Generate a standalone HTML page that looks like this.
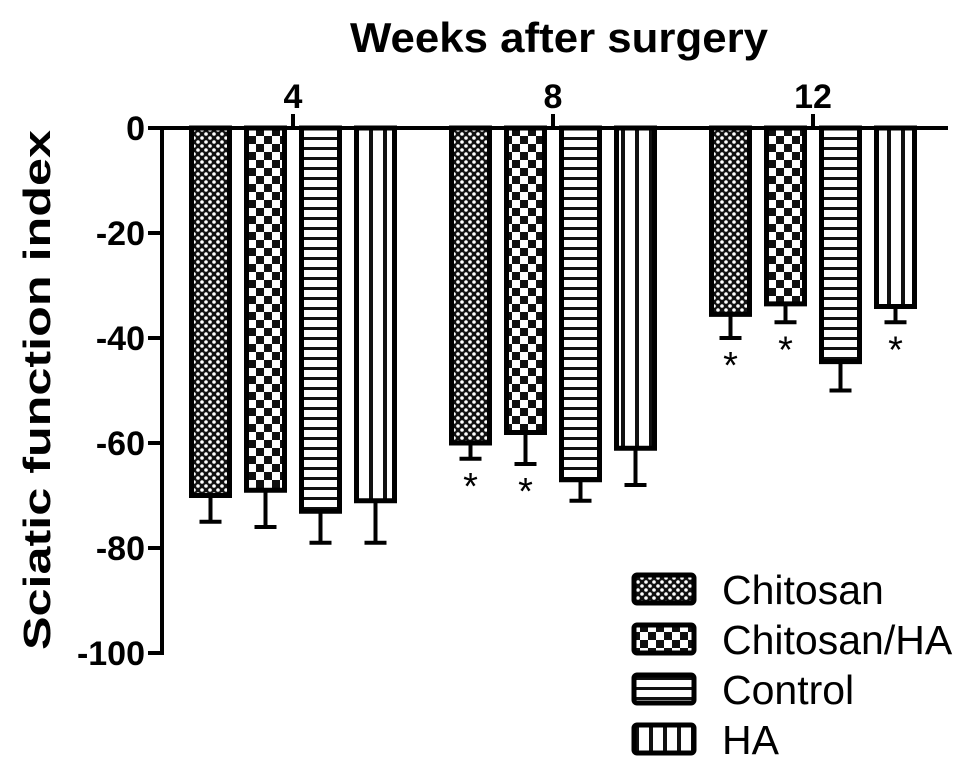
<!DOCTYPE html>
<html><head><meta charset="utf-8"><style>
html,body{margin:0;padding:0;background:#fff;}
svg{display:block;font-family:"Liberation Sans",Arial,sans-serif;}
</style></head><body>
<svg id="chart" width="969" height="782" viewBox="0 0 969 782">
<defs>
<pattern id="p-dots" width="8" height="8" patternUnits="userSpaceOnUse">
<rect width="8" height="8" fill="#111"/><circle cx="2" cy="2" r="1.8" fill="#fff"/><circle cx="6" cy="6" r="1.8" fill="#fff"/>
</pattern>
<pattern id="p-check" width="16" height="16" patternUnits="userSpaceOnUse">
<rect width="16" height="16" fill="#fff"/><rect width="8" height="8" fill="#111"/><rect x="8" y="8" width="8" height="8" fill="#111"/>
</pattern>
<pattern id="p-hstripe" width="10" height="10" patternUnits="userSpaceOnUse">
<rect width="10" height="10" fill="#fff"/><rect y="7" width="10" height="3" fill="#111"/>
</pattern>
<pattern id="p-vstripe" width="14" height="10" patternUnits="userSpaceOnUse">
<rect width="14" height="10" fill="#fff"/><rect x="5" width="4" height="10" fill="#111"/>
</pattern>
</defs>
<g id="plot"></g>
</svg>
<script>
const groups = ["4","8","12"];
const seriesNames = ["Chitosan","Chitosan/HA","Control","HA"];
const chitosan = [-70,-60,-35.5];
const chitosanHA = [-69,-58,-33.5];
const control = [-73,-67,-44.5];
const ha = [-71,-61,-34];
const errChitosan = [5,3,4.5];
const errChitosanHA = [7,6,3.5];
const errControl = [6,4,5.5];
const errHA = [8,7,3];
const sig = [[false,true,true],[false,true,true],[false,false,false],[false,false,true]];
const yTicks = [0,-20,-40,-60,-80,-100];

const NS="http://www.w3.org/2000/svg";
const g=document.getElementById('plot');
function el(t,a,txt){const e=document.createElementNS(NS,t);for(const k in a)e.setAttribute(k,a[k]);if(txt!==undefined)e.textContent=txt;g.appendChild(e);return e;}
const y=v=>128+(-v)*5.25;
const gx=i=>293+i*260;
const off=[-82.5,-27.5,27.5,82.5];
const fills=["url(#p-dots)","url(#p-check)","url(#p-hstripe)","url(#p-vstripe)"];
const vals=[chitosan,chitosanHA,control,ha];
const errs=[errChitosan,errChitosanHA,errControl,errHA];
const bw=38;

let t=el('text',{x:350,y:52,'font-size':42,'font-weight':'bold',textLength:418,lengthAdjust:'spacingAndGlyphs'},'Weeks after surgery');


t=el('text',{transform:'translate(50,650) rotate(-90)','font-size':38,'font-weight':'bold',textLength:520,lengthAdjust:'spacingAndGlyphs'},'Sciatic function index');



vals.forEach((arr,s)=>{
  arr.forEach((v,i)=>{
    const cx=gx(i)+off[s];
    const bot=y(v-errs[s][i]);
    let l=el('line',{x1:cx,y1:y(v),x2:cx,y2:bot,stroke:'#000','stroke-width':4});
    
    
    l=el('line',{x1:cx-11,y1:bot,x2:cx+11,y2:bot,stroke:'#000','stroke-width':4});
    
    
    const r=el('rect',{x:cx-bw/2,y:128,width:bw,height:y(v)-128,fill:fills[s],stroke:'#000','stroke-width':5});
    
    
    if(sig[s][i]){
      const st=el('text',{x:cx,y:bot+40,'text-anchor':'middle','font-size':38},'*');
      
      
    }
  });
});

let ax=el('line',{x1:162,y1:128,x2:948,y2:128,stroke:'#000','stroke-width':4});


ax=el('line',{x1:162,y1:126,x2:162,y2:655,stroke:'#000','stroke-width':4});



groups.forEach((gname,i)=>{
  const x=gx(i);
  let tk=el('line',{x1:x,y1:114,x2:x,y2:128,stroke:'#000','stroke-width':4});
  
  
  tk=el('text',{x:x,y:108,'text-anchor':'middle','font-size':34,'font-weight':'bold'},gname);
  
  
});
yTicks.forEach(v=>{
  let tk=el('line',{x1:148,y1:y(v),x2:162,y2:y(v),stroke:'#000','stroke-width':4});
  
  
  tk=el('text',{x:145,y:y(v)+12,'text-anchor':'end','font-size':34,'font-weight':'bold'},String(v));
  
  
});

seriesNames.forEach((n,s)=>{
  const ly=575+s*50;
  const r=el('rect',{x:634,y:ly,width:60,height:28,rx:3,fill:fills[s],stroke:'#000','stroke-width':5});
  
  
  const tx=el('text',{x:722,y:ly+29,'font-size':41},n);
  
  
});
</script>
</body></html>
